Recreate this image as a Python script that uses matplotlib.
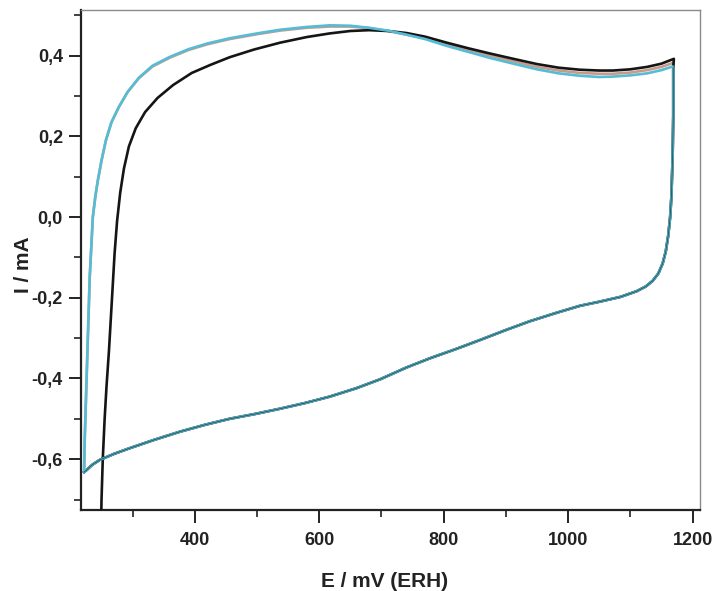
import matplotlib
matplotlib.use("Agg")
import matplotlib.pyplot as plt
from matplotlib.ticker import MultipleLocator, FuncFormatter

plt.rcParams['font.family'] = ['Liberation Sans', 'DejaVu Sans']

# ---- data (E in mV vs ERH, I in mA) ----
# black trace: anodic sweep
e_black_anodic = [249, 250, 252, 255, 258, 262, 265, 268, 271, 275, 280, 286, 294, 305, 320,
                  340, 365, 395, 425, 456, 495, 537, 580, 617, 650, 680, 710, 740, 770, 805,
                  840, 875, 912, 950, 985, 1019, 1050, 1072, 1100, 1127, 1150, 1170]
i_black_anodic = [-0.78, -0.70, -0.60, -0.50, -0.42, -0.33, -0.25, -0.17, -0.09, -0.01, 0.06,
                  0.12, 0.175, 0.22, 0.26, 0.295, 0.327, 0.357, 0.377, 0.396, 0.415, 0.432,
                  0.446, 0.455, 0.461, 0.463, 0.461, 0.456, 0.447, 0.432, 0.418, 0.405, 0.392,
                  0.379, 0.370, 0.365, 0.363, 0.363, 0.366, 0.372, 0.380, 0.392]

# middle (brownish) trace: anodic sweep
e_mid_anodic = [222, 223, 225, 227, 229, 231, 234, 236, 240, 244, 250, 257, 266, 278, 292,
                310, 332, 360, 390, 420, 456, 500, 537, 580, 617, 650, 680, 710, 740, 770,
                805, 840, 875, 912, 950, 985, 1019, 1050, 1072, 1100, 1127, 1150, 1169]
i_mid_anodic = [-0.630, -0.55, -0.45, -0.35, -0.25, -0.15, -0.06, 0.0, 0.05, 0.09, 0.14,
                0.19, 0.235, 0.273, 0.31, 0.344, 0.373, 0.395, 0.414, 0.428, 0.441, 0.453,
                0.462, 0.469, 0.472, 0.472, 0.468, 0.461, 0.452, 0.443, 0.428, 0.414,
                0.400, 0.386, 0.372, 0.363, 0.357, 0.355, 0.355, 0.358, 0.364, 0.372, 0.382]

# cyan trace: anodic sweep
e_cyan_anodic = [222, 223, 225, 227, 229, 231, 234, 236, 240, 244, 250, 257, 266, 278, 292,
                 310, 332, 360, 390, 420, 456, 500, 537, 580, 617, 650, 680, 710, 740, 770,
                 805, 840, 875, 912, 950, 985, 1019, 1050, 1072, 1100, 1127, 1150, 1168]
i_cyan_anodic = [-0.630, -0.55, -0.45, -0.35, -0.25, -0.15, -0.06, 0.0, 0.05, 0.09, 0.14,
                 0.19, 0.235, 0.273, 0.31, 0.345, 0.375, 0.397, 0.416, 0.430, 0.443, 0.455,
                 0.464, 0.471, 0.475, 0.474, 0.469, 0.462, 0.452, 0.441, 0.424, 0.409,
                 0.394, 0.380, 0.366, 0.356, 0.350, 0.347, 0.348, 0.351, 0.356, 0.364, 0.373]

# cathodic sweep (common to the traces)
e_cathodic = [1169, 1169, 1168, 1166, 1164, 1161, 1157, 1152, 1145, 1136, 1125, 1110, 1084,
              1050, 1019, 980, 939, 900, 858, 820, 778, 740, 698, 660, 617, 577, 537, 497,
              456, 416, 376, 335, 295, 270, 247, 235, 226, 222]
i_cathodic = [0.37, 0.25, 0.15, 0.05, 0.0, -0.045, -0.085, -0.115, -0.140, -0.158, -0.172,
              -0.184, -0.198, -0.210, -0.220, -0.238, -0.258, -0.280, -0.305, -0.327,
              -0.350, -0.373, -0.402, -0.424, -0.445, -0.461, -0.475, -0.488, -0.500,
              -0.515, -0.532, -0.552, -0.573, -0.587, -0.602, -0.614, -0.627, -0.632]

x_label = "E / mV (ERH)"
y_label = "I / mA"

# ---- figure ----
fig = plt.figure(figsize=(7.13, 5.91), dpi=100)
ax = fig.add_axes([81 / 713, 81 / 591, 619 / 713, 500 / 591])

lw = 1.9
ax.plot(e_black_anodic + e_cathodic, i_black_anodic + i_cathodic, color='#151515', lw=lw,
        zorder=3)
ax.plot(e_mid_anodic + e_cathodic, i_mid_anodic + i_cathodic, color='#c99a8a', lw=lw,
        zorder=2)
ax.plot(e_cyan_anodic + e_cathodic, i_cyan_anodic + i_cathodic, color='#55bcd6', lw=lw,
        zorder=4)
# black cathodic overlaps, drawn faintly above the cyan
ax.plot(e_cathodic, i_cathodic, color='#1a3a40', lw=0.8, alpha=0.7, zorder=5)

ax.set_xlim(217, 1212)
ax.set_ylim(-0.726, 0.513)

ax.xaxis.set_major_locator(MultipleLocator(200))
ax.xaxis.set_minor_locator(MultipleLocator(100))
ax.yaxis.set_major_locator(MultipleLocator(0.2))
ax.yaxis.set_minor_locator(MultipleLocator(0.1))

def yfmt(v, pos):
    s = f"{v:.1f}"
    if s == "-0.0":
        s = "0.0"
    return s.replace('.', ',')

ax.yaxis.set_major_formatter(FuncFormatter(yfmt))
ax.xaxis.set_major_formatter(FuncFormatter(lambda v, p: f"{int(round(v))}"))

ax.tick_params(axis='both', which='major', direction='out', length=9, width=1.4,
               labelsize=13, colors='#222222', pad=4)
ax.tick_params(axis='both', which='minor', direction='out', length=5, width=1.2,
               colors='#222222')
ax.tick_params(top=False, right=False, which='both')
ax.tick_params(axis='x', which='major', pad=7)
for lab in ax.get_xticklabels() + ax.get_yticklabels():
    lab.set_fontweight('bold')

for side in ['left', 'bottom']:
    ax.spines[side].set_linewidth(1.6)
    ax.spines[side].set_color('#222222')
for side in ['top', 'right']:
    ax.spines[side].set_linewidth(1.0)
    ax.spines[side].set_color('#8a8a8a')

ax.set_xlabel(x_label, fontsize=15, color='#222222', fontweight='bold')
ax.set_ylabel(y_label, fontsize=15, color='#222222', fontweight='bold')
ax.xaxis.set_label_coords(0.491, -0.124)
ax.yaxis.set_label_coords(-0.077, 0.49)

fig.savefig("out.png", dpi=100)
